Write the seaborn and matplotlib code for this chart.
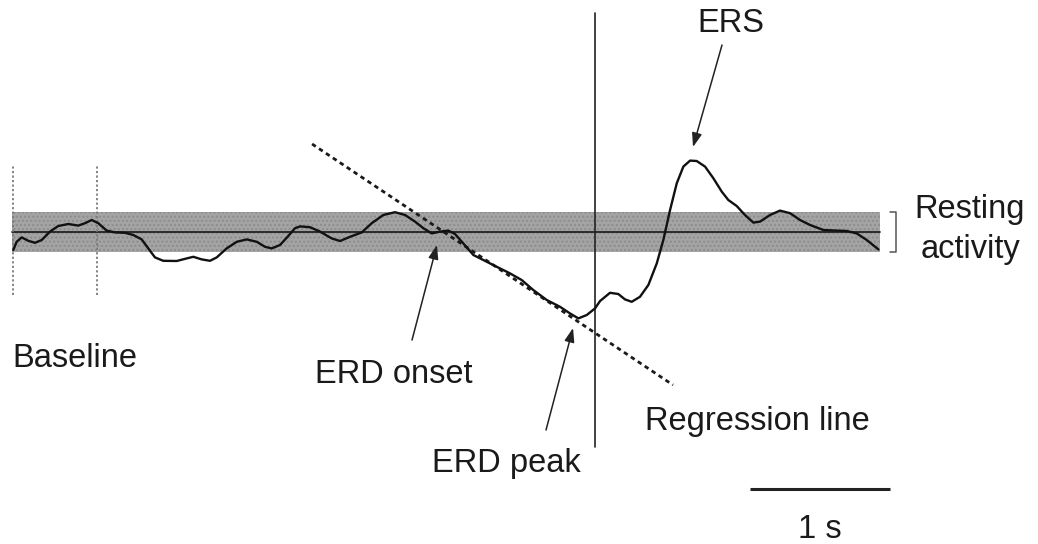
import matplotlib
matplotlib.use("Agg")
import matplotlib.pyplot as plt
import pandas as pd
import seaborn as sns

# Band power time course (time in s relative to movement offset, power in units of resting SD)
time_s = [-4.155, -4.131, -4.095, -4.048, -4.000, -3.952, -3.893, -3.834, -3.762, -3.691,
          -3.643, -3.595, -3.548, -3.488, -3.429, -3.357, -3.298, -3.238, -3.191, -3.143,
          -3.084, -2.988, -2.916, -2.869, -2.809, -2.750, -2.702, -2.631, -2.559, -2.488,
          -2.416, -2.357, -2.309, -2.250, -2.191, -2.143, -2.107, -2.036, -1.964, -1.881,
          -1.821, -1.750, -1.666, -1.595, -1.512, -1.429, -1.357, -1.286, -1.226, -1.166,
          -1.107, -1.048, -1.000, -0.941, -0.869, -0.798, -0.702, -0.607, -0.524, -0.441,
          -0.345, -0.250, -0.179, -0.119, -0.059, 0.000, 0.036, 0.107, 0.166, 0.214,
          0.262, 0.321, 0.381, 0.441, 0.488, 0.536, 0.584, 0.631, 0.679, 0.726,
          0.786, 0.845, 0.905, 0.952, 1.012, 1.071, 1.131, 1.179, 1.250, 1.321,
          1.393, 1.464, 1.536, 1.631, 1.726, 1.798, 1.869, 1.941, 2.024]
power = [-0.90, -0.49, -0.27, -0.44, -0.54, -0.40, 0.02, 0.30, 0.40, 0.32,
         0.44, 0.60, 0.44, 0.07, -0.02, -0.04, -0.15, -0.37, -0.82, -1.27,
         -1.44, -1.45, -1.32, -1.24, -1.37, -1.44, -1.27, -0.82, -0.49, -0.37,
         -0.49, -0.74, -0.82, -0.65, -0.20, 0.19, 0.28, 0.24, 0.02, -0.32,
         -0.45, -0.24, -0.02, 0.44, 0.85, 0.99, 0.85, 0.52, 0.19, -0.07,
         0.02, 0.07, -0.10, -0.57, -1.15, -1.40, -1.74, -2.07, -2.40, -2.90,
         -3.40, -3.74, -4.07, -4.32, -4.15, -3.82, -3.45, -3.04, -3.10, -3.37,
         -3.49, -3.24, -2.65, -1.57, -0.40, 1.10, 2.44, 3.27, 3.57, 3.55,
         3.27, 2.69, 2.02, 1.60, 1.30, 0.85, 0.47, 0.52, 0.85, 1.07,
         0.94, 0.60, 0.35, 0.10, 0.07, 0.05, -0.07, -0.40, -0.87]

# Resting activity band (mean +/- 1 SD) and its time span
rest_span = [-4.164, 2.036]
rest_mean = 0.0
rest_sd = 1.0

# Baseline interval markers
baseline_marks = [-4.157, -3.557]
baseline_mark_range = [-3.15, 3.35]

# Regression line endpoints (time, power)
regr_t = [-2.021, 0.557]
regr_p = [4.40, -7.65]

# Movement offset reference line
event_t = 0.0
event_range = [-10.75, 10.95]

# Labels
ers_label = "ERS"
onset_label = "ERD onset"
peak_label = "ERD peak"
baseline_label = "Baseline"
regr_label = "Regression line"
rest_label = ["Resting", "activity"]
scale_label = "1 s"
scale_bar = [1.107, 2.107]

sns.set_theme(style="white")
plt.rcParams["font.family"] = ["Liberation Sans", "DejaVu Sans"]

fig = plt.figure(figsize=(10.38, 5.44), dpi=100)
ax = fig.add_axes([0, 0, 1, 1])
ax.set_xlim(-4.25, 3.164)
ax.set_ylim(-15.6, 11.6)
ax.axis("off")

txt = "#1a1a1a"
fs = 23.5

# Resting band
ax.fill_between(rest_span, rest_mean - rest_sd, rest_mean + rest_sd,
                facecolor="#a4a4a4", edgecolor="#8c8c8c", hatch="....",
                linewidth=0, zorder=1)
ax.plot(rest_span, [rest_mean, rest_mean], color="#222222", lw=1.3, zorder=2)

# Baseline markers
for bt in baseline_marks:
    ax.plot([bt, bt], baseline_mark_range, color="#7a7a7a", lw=1.3,
            linestyle=(0, (1.2, 1.3)), zorder=2)

# Event line
ax.plot([event_t, event_t], event_range, color="#222222", lw=1.2, zorder=2)

# Regression line
ax.plot(regr_t, regr_p, color="#1a1a1a", lw=2.0, linestyle=(0, (1.6, 1.4)), zorder=3)

# Power curve
df = pd.DataFrame({"time": time_s, "power": power})
sns.lineplot(data=df, x="time", y="power", ax=ax, color="#111111", lw=1.7,
             sort=False, zorder=4, solid_joinstyle="round", solid_capstyle="round")

arrow = dict(arrowstyle="-|>,head_length=0.7,head_width=0.25", color="#222222",
             lw=1.1, shrinkA=0, shrinkB=0)
ax.annotate("", xy=(0.70, 4.25), xytext=(0.907, 9.35), arrowprops=arrow, zorder=5)
ax.annotate("", xy=(-1.129, -0.65), xytext=(-1.307, -5.4), arrowprops=arrow, zorder=5)
ax.annotate("", xy=(-0.157, -4.8), xytext=(-0.35, -9.9), arrowprops=arrow, zorder=5)

ax.text(0.971, 10.0, ers_label, ha="center", va="baseline", fontsize=fs, color=txt)
ax.text(-4.164, -6.75, baseline_label, ha="left", va="baseline", fontsize=fs, color=txt)
ax.text(-2.0, -7.55, onset_label, ha="left", va="baseline", fontsize=fs, color=txt)
ax.text(-1.164, -12.0, peak_label, ha="left", va="baseline", fontsize=fs, color=txt)
ax.text(0.357, -9.9, regr_label, ha="left", va="baseline", fontsize=fs, color=txt)
ax.text(2.679, 0.7, rest_label[0], ha="center", va="baseline", fontsize=fs, color=txt)
ax.text(2.679, -1.3, rest_label[1], ha="center", va="baseline", fontsize=fs, color=txt)

# Bracket marking the resting band
bx = [2.107, 2.15, 2.15, 2.107]
by = [rest_mean + rest_sd, rest_mean + rest_sd, rest_mean - rest_sd, rest_mean - rest_sd]
ax.plot(bx, by, color="#555555", lw=1.1)

# Time scale bar
ax.plot(scale_bar, [-12.85, -12.85], color="#222222", lw=2.2, solid_capstyle="butt")
ax.text(sum(scale_bar) / 2, -15.3, scale_label, ha="center", va="baseline",
        fontsize=fs, color=txt)

fig.savefig("out.png", dpi=100, facecolor="white")
